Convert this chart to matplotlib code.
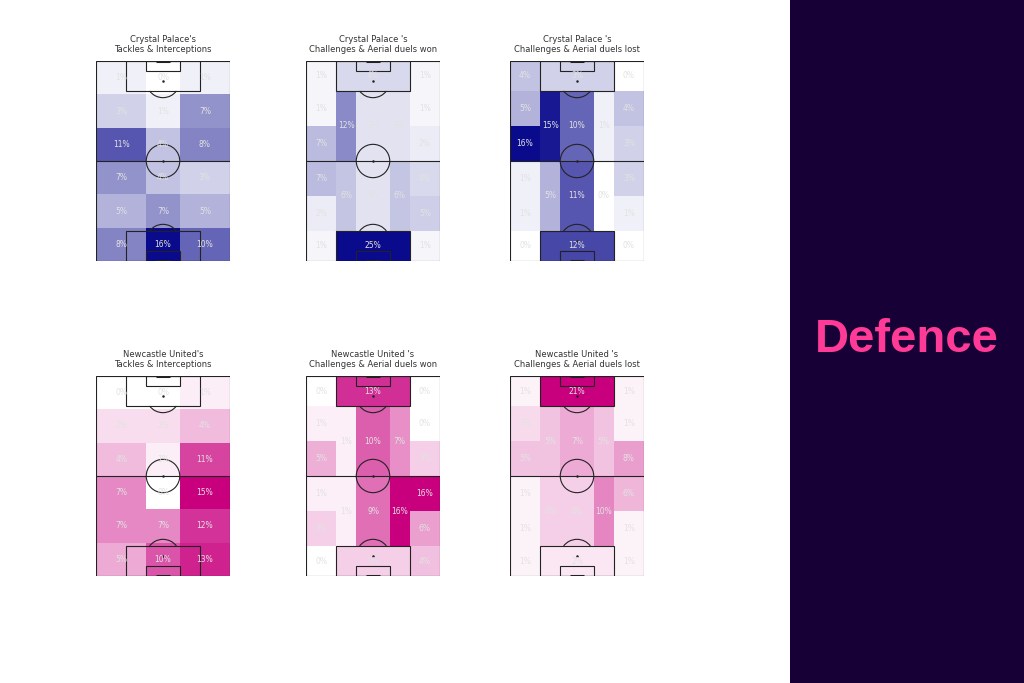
import matplotlib
matplotlib.use("Agg")
import matplotlib.pyplot as plt
from matplotlib.patches import Rectangle, Circle, Arc
from matplotlib.colors import LinearSegmentedColormap, Normalize

# ---------------- data ----------------
titles = [
    "Crystal Palace's\nTackles & Interceptions",
    "Crystal Palace 's\nChallenges & Aerial duels won",
    "Crystal Palace 's\nChallenges & Aerial duels lost",
    "Newcastle United's\nTackles & Interceptions",
    "Newcastle United 's\nChallenges & Aerial duels won",
    "Newcastle United 's\nChallenges & Aerial duels lost",
]

# 3 columns x 6 rows grids (rows listed top -> bottom)
cp_tackles = [[1, 0, 1],
              [3, 1, 7],
              [11, 4, 8],
              [7, 4, 3],
              [5, 7, 5],
              [8, 16, 10]]
nu_tackles = [[0, 0, 1],
              [2, 2, 4],
              [4, 1, 11],
              [7, 0, 15],
              [7, 7, 12],
              [5, 10, 13]]

# positional grids
cp_won_top_box = 4
cp_won_bottom_box = 25
cp_won_left_wide = [1, 1, 7, 7, 2, 1]
cp_won_right_wide = [1, 1, 2, 4, 5, 1]
cp_won_left_hs = [12, 6]
cp_won_center = [3, 3]
cp_won_right_hs = [3, 6]

cp_lost_top_box = 3
cp_lost_bottom_box = 12
cp_lost_left_wide = [4, 5, 16, 1, 1, 0]
cp_lost_right_wide = [0, 4, 3, 3, 1, 0]
cp_lost_left_hs = [15, 5]
cp_lost_center = [10, 11]
cp_lost_right_hs = [1, 0]

nu_won_top_box = 13
nu_won_bottom_box = 3
nu_won_left_wide = [0, 1, 5, 1, 3, 0]
nu_won_right_wide = [0, 0, 3, 16, 6, 4]
nu_won_left_hs = [1, 1]
nu_won_center = [10, 9]
nu_won_right_hs = [7, 16]

nu_lost_top_box = 21
nu_lost_bottom_box = 2
nu_lost_left_wide = [1, 3, 5, 1, 1, 1]
nu_lost_right_wide = [1, 1, 8, 6, 1, 1]
nu_lost_left_hs = [5, 4]
nu_lost_center = [7, 4]
nu_lost_right_hs = [5, 10]

team_colors = ["#0a0a8c", "#c8007e"]

# ---------------- helpers ----------------
L, W = 120, 80
line_c = "#222222"
label_c = "#e2e2e2"


def draw_pitch(ax):
    lw = 0.8
    kw = dict(fill=False, ec=line_c, lw=lw, zorder=3)
    ax.add_patch(Rectangle((0, 0), W, L, **kw))
    ax.plot([0, W], [L / 2, L / 2], color=line_c, lw=lw, zorder=3)
    ax.add_patch(Circle((W / 2, L / 2), 10, **kw))
    ax.plot([W / 2], [L / 2], marker="o", ms=0.8, color=line_c, zorder=3)
    # boxes
    ax.add_patch(Rectangle((18, 0), 44, 18, **kw))
    ax.add_patch(Rectangle((18, L - 18), 44, 18, **kw))
    ax.add_patch(Rectangle((30, 0), 20, 6, **kw))
    ax.add_patch(Rectangle((30, L - 6), 20, 6, **kw))
    ax.plot([W / 2], [12], marker="o", ms=0.8, color=line_c, zorder=3)
    ax.plot([W / 2], [L - 12], marker="o", ms=0.8, color=line_c, zorder=3)
    ax.add_patch(Arc((W / 2, 12), 20, 20, theta1=36.87, theta2=143.13,
                     ec=line_c, lw=lw, zorder=3))
    ax.add_patch(Arc((W / 2, L - 12), 20, 20, theta1=216.87, theta2=323.13,
                     ec=line_c, lw=lw, zorder=3))
    # goals
    ax.plot([36, 44], [L, L], color=line_c, lw=2.2, zorder=4, solid_capstyle="butt")
    ax.plot([36, 44], [0, 0], color=line_c, lw=2.2, zorder=4, solid_capstyle="butt")


def cell(ax, x0, y0, w, h, v, cmap, norm):
    ax.add_patch(Rectangle((x0, y0), w, h, fc=cmap(norm(v)), ec="none", zorder=1))
    ax.text(x0 + w / 2, y0 + h / 2, f"{v}%", ha="center", va="center",
            fontsize=5.5, color=label_c, zorder=5)


def draw_grid(ax, grid, cmap):
    vmax = max(max(r) for r in grid)
    norm = Normalize(0, vmax)
    xe = [0, 30, 50, 80]
    nrows = len(grid)
    rh = L / nrows
    for i, row in enumerate(grid):
        y0 = L - (i + 1) * rh
        for j, v in enumerate(row):
            cell(ax, xe[j], y0, xe[j + 1] - xe[j], rh, v, cmap, norm)


def draw_positional(ax, top_box, bottom_box, lw_, rw_, lhs, cen, rhs, cmap):
    vals = [top_box, bottom_box] + lw_ + rw_ + lhs + cen + rhs
    norm = Normalize(0, max(vals))
    ye = [120, 102, 81, 60, 39, 18, 0]
    for i in range(6):
        cell(ax, 0, ye[i + 1], 18, ye[i] - ye[i + 1], lw_[i], cmap, norm)
        cell(ax, 62, ye[i + 1], 18, ye[i] - ye[i + 1], rw_[i], cmap, norm)
    cell(ax, 18, 102, 44, 18, top_box, cmap, norm)
    cell(ax, 18, 0, 44, 18, bottom_box, cmap, norm)
    he = [102, 60, 18]
    for k in range(2):
        cell(ax, 18, he[k + 1], 12, he[k] - he[k + 1], lhs[k], cmap, norm)
        cell(ax, 30, he[k + 1], 20, he[k] - he[k + 1], cen[k], cmap, norm)
        cell(ax, 50, he[k + 1], 12, he[k] - he[k + 1], rhs[k], cmap, norm)


# ---------------- figure ----------------
fig = plt.figure(figsize=(10.24, 6.83), dpi=100)
fig.patch.set_facecolor("white")

# right panel
panel = fig.add_axes([790 / 1024, 0, 1 - 790 / 1024, 1])
panel.set_facecolor("#170036")
panel.set_xticks([]); panel.set_yticks([])
for s in panel.spines.values():
    s.set_visible(False)
panel.text(0.5, 1 - 340 / 683, "Defence", ha="center", va="center",
           fontsize=34, fontweight="bold", color="#ff3a97",
           family=["Liberation Sans", "DejaVu Sans"], transform=panel.transAxes)

lefts = [96, 306, 510]
tops = [61, 376]
pw, ph = 134, 200

datasets = [
    ("grid", cp_tackles),
    ("pos", (cp_won_top_box, cp_won_bottom_box, cp_won_left_wide, cp_won_right_wide,
             cp_won_left_hs, cp_won_center, cp_won_right_hs)),
    ("pos", (cp_lost_top_box, cp_lost_bottom_box, cp_lost_left_wide, cp_lost_right_wide,
             cp_lost_left_hs, cp_lost_center, cp_lost_right_hs)),
    ("grid", nu_tackles),
    ("pos", (nu_won_top_box, nu_won_bottom_box, nu_won_left_wide, nu_won_right_wide,
             nu_won_left_hs, nu_won_center, nu_won_right_hs)),
    ("pos", (nu_lost_top_box, nu_lost_bottom_box, nu_lost_left_wide, nu_lost_right_wide,
             nu_lost_left_hs, nu_lost_center, nu_lost_right_hs)),
]

for idx, (kind, data) in enumerate(datasets):
    r, c = divmod(idx, 3)
    cmap = LinearSegmentedColormap.from_list("t", ["#ffffff", team_colors[r]])
    ax = fig.add_axes([lefts[c] / 1024, 1 - (tops[r] + ph) / 683, pw / 1024, ph / 683])
    ax.set_xlim(0, W)
    ax.set_ylim(0, L)
    ax.axis("off")
    if kind == "grid":
        draw_grid(ax, data, cmap)
    else:
        draw_positional(ax, *data, cmap)
    draw_pitch(ax)
    ax.text(0.5, 1.035, titles[idx], ha="center", va="bottom", fontsize=6,
            color="#333333", transform=ax.transAxes, linespacing=1.2)

fig.savefig("out.png", dpi=100)
